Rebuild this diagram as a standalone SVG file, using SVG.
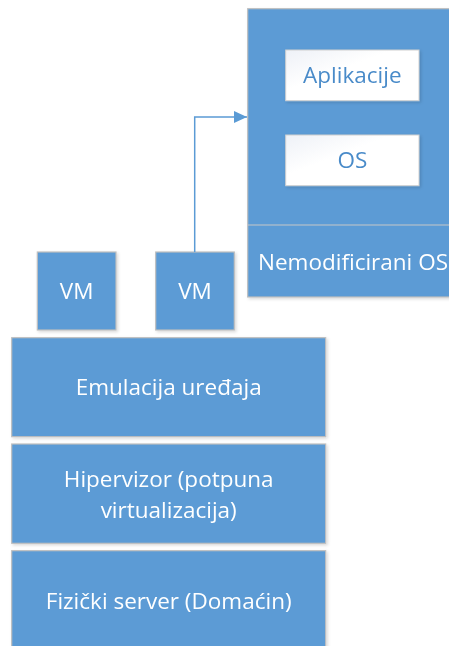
<svg xmlns="http://www.w3.org/2000/svg" width="449" height="646" viewBox="0 0 449 646">
<defs>
<style>
.b{fill:#5B9BD5;stroke:#BFBFBF;stroke-width:1.2}
.w{fill:url(#g);stroke:#D0D0D0;stroke-width:1}
.t{font-family:"Open Sans","Liberation Sans",sans-serif;font-size:22.5px;fill:#FFFFFF;text-anchor:middle}
.tb{font-family:"Open Sans","Liberation Sans",sans-serif;font-size:22.5px;fill:#4A8BC9;text-anchor:middle}
.c{fill:none;stroke:#5B9BD5;stroke-width:1.5}
</style>
<linearGradient id="g" x1="0" y1="0" x2="1" y2="1">
<stop offset="0" stop-color="#EEF1F7"/>
<stop offset="0.4" stop-color="#FFFFFF"/>
<stop offset="1" stop-color="#FFFFFF"/>
</linearGradient>
<filter id="sh" x="-10%" y="-10%" width="130%" height="130%">
<feDropShadow dx="1.5" dy="1.5" stdDeviation="1.5" flood-color="#000" flood-opacity="0.15"/>
</filter>
<marker id="ah" markerWidth="14" markerHeight="13" refX="13" refY="6" orient="auto" markerUnits="userSpaceOnUse">
<path d="M0,0 L13,6 L0,12 Z" fill="#5B9BD5"/>
</marker>
</defs>
<g id="vm-detail" filter="url(#sh)">
<rect class="b" x="247.7" y="8.7" width="210" height="288.3"/>
<line x1="247.7" y1="225" x2="449" y2="225" stroke="#C8C8C8" stroke-width="1.2"/>
<text class="t" x="353" y="270">Nemodificirani OS</text>
</g>
<g id="aplikacije" filter="url(#sh)">
<rect class="w" x="285.7" y="50" width="133.3" height="50.7"/>
<text class="tb" x="352.3" y="83">Aplikacije</text>
</g>
<g id="os" filter="url(#sh)">
<rect class="w" x="285.7" y="135" width="133.3" height="50.7"/>
<text class="tb" x="352.3" y="168">OS</text>
</g>
<g id="vm1" filter="url(#sh)">
<rect class="b" x="37.3" y="252" width="78.7" height="78"/>
<text class="t" x="76.7" y="299">VM</text>
</g>
<g id="vm2" filter="url(#sh)">
<rect class="b" x="155.7" y="252" width="78.6" height="78"/>
<text class="t" x="195" y="299">VM</text>
</g>
<g id="emulacija" filter="url(#sh)">
<rect class="b" x="11.7" y="337.7" width="314" height="99"/>
<text class="t" x="168.7" y="395">Emulacija uređaja</text>
</g>
<g id="hipervizor" filter="url(#sh)">
<rect class="b" x="11.7" y="444" width="314" height="99.3"/>
<text class="t" x="168.7" y="487">Hipervizor (potpuna</text>
<text class="t" x="168.7" y="518">virtualizacija)</text>
</g>
<g id="fizicki" filter="url(#sh)">
<rect class="b" x="11.7" y="550.7" width="314" height="100"/>
<text class="t" x="168.7" y="609">Fizički server (Domaćin)</text>
</g>
<g id="connectors">
<path class="c" d="M194.7,252 V117 H247" marker-end="url(#ah)"/>
</g>
</svg>
